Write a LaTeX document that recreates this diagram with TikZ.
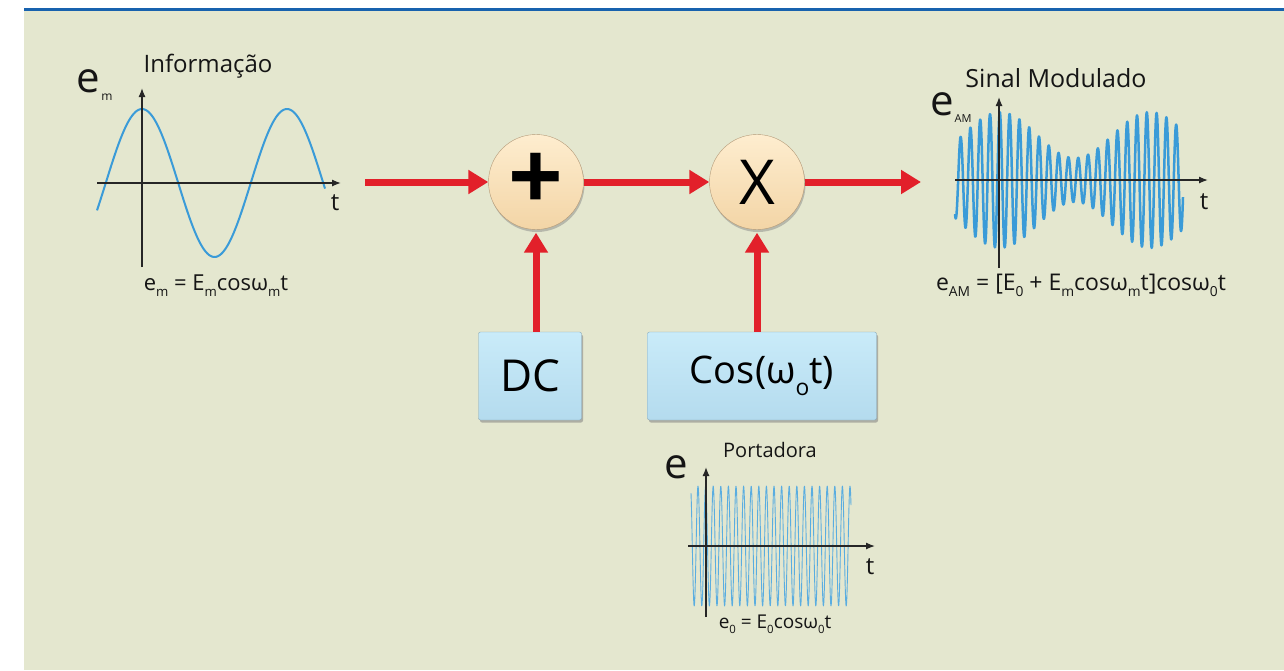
\documentclass[tikz,border=0pt]{standalone}
\usepackage{fontspec}
\setmainfont{Open Sans}
\usetikzlibrary{arrows.meta,shadows}

\definecolor{fundo}{HTML}{E4E7CF}
\definecolor{faixa}{HTML}{1862AE}
\definecolor{vermelho}{HTML}{E2202A}
\definecolor{azul}{HTML}{3A9BD8}
\definecolor{azulclaro}{HTML}{5AADE0}
\definecolor{cinza}{HTML}{262626}
\definecolor{preto}{HTML}{151515}
\definecolor{creme1}{HTML}{FEEDCF}
\definecolor{creme2}{HTML}{F3D5A6}
\definecolor{borda}{HTML}{B49A78}
\definecolor{ceu1}{HTML}{C9EBF9}
\definecolor{ceu2}{HTML}{B4DBEE}
\definecolor{cxborda}{HTML}{86A6B6}

% tamanho de fonte e indice rebaixado
\newcommand\tam[1]{\fontsize{#1}{#1}\selectfont}
\newcommand\lo[1]{\raisebox{-.3em}{\scalebox{.6}{#1}}}

\begin{document}
\begin{tikzpicture}[x=1pt, y=-1pt,
  seta/.style={draw=vermelho, line width=7pt, -{Triangle[length=20pt,width=23pt]}},
  eixo/.style={draw=cinza, line width=1.3pt, -{Latex[length=9pt,width=7pt]}},
  onda/.style={draw=azul, line width=2pt, line join=round},
  bola/.style={circle, minimum size=95pt, inner sep=0pt, draw=borda, top color=creme1,
    bottom color=creme2, drop shadow={shadow xshift=1pt, shadow yshift=-2.5pt, opacity=.45}},
  caixa/.style={rectangle, rounded corners=2pt, inner sep=0pt, draw=cxborda, top color=ceu1,
    bottom color=ceu2, drop shadow={shadow xshift=1.5pt, shadow yshift=-2.5pt, opacity=.55}},
  rotulo/.style={text=preto, inner sep=0pt, anchor=base},
]
\useasboundingbox (0,0) rectangle (1284,670);
\fill[fundo] (24,11) rectangle (1284,670);
\fill[faixa] (24,8) rectangle (1284,11);

% informacao
\draw[onda] plot[domain=97:325, samples=150] (\x, {183-74*cos((\x-142)/145*360)});
\draw[eixo] (142,267) -- (142,88);
\draw[eixo] (97,183) -- (341,183);
\node[rotulo, font=\tam{24}] at (208,72) {Informação};
\node[rotulo, font=\tam{42}] at (88,92) {e};
\node[rotulo, font=\tam{12}] at (107,100) {m};
\node[rotulo, font=\tam{24}] at (335,210) {t};
\node[rotulo, font=\tam{22}] at (216,290) {e\lo{m} = E\lo{m}cosω\lo{m}t};

% sinal modulado
\draw[onda, line width=2.5pt] plot[domain=955:1183, samples=700]
  (\x, {180-(45+23*cos((\x-1000)/150*360))*cos((\x-990)/9.8*360)});
\draw[eixo] (999,268) -- (999,97);
\draw[eixo] (955,180) -- (1208,180);
\node[rotulo, font=\tam{25}] at (1056,87) {Sinal Modulado};
\node[rotulo, font=\tam{42}] at (942,115) {e};
\node[rotulo, font=\tam{11}] at (963,122) {AM};
\node[rotulo, font=\tam{24}] at (1204,209) {t};
\node[rotulo, font=\tam{23}] at (1081,290) {e\lo{AM} = [E\lo{0} + E\lo{m}cosω\lo{m}t]cosω\lo{0}t};

% portadora
\draw[onda, draw=azulclaro, line width=.9pt] plot[domain=691:851, samples=600]
  (\x, {546-60*cos((\x-698)/7.6*360)});
\draw[eixo] (706,617) -- (706,467);
\draw[eixo] (688,546) -- (875,546);
\node[rotulo, font=\tam{20}] at (770,457) {Portadora};
\node[rotulo, font=\tam{42}] at (676,478) {e};
\node[rotulo, font=\tam{24}] at (870,574) {t};
\node[rotulo, font=\tam{19}] at (775,628) {e\lo{0} = E\lo{0}cosω\lo{0}t};

% blocos
\node[bola, font=\bfseries\tam{96}] (soma) at (536,182) {+};
\node[bola, font=\tam{62}] (mult) at (757,182) {X};
\node[caixa, minimum width=103pt, minimum height=88pt, font=\tam{44}] (dc) at (530,376) {DC};
\node[caixa, minimum width=229pt, minimum height=88pt, font=\tam{38}] (osc) at (762,376) {Cos(ω\lo{o}t)};

\coordinate (entra) at (365,182);
\coordinate (sai) at (921,182);
\draw[seta] (entra) -- (soma);
\draw[seta] (soma) -- (mult);
\draw[seta] (mult) -- (sai);
\draw[seta, shorten >=3pt] (soma |- dc.north) -- (soma);
\draw[seta, shorten >=3pt] (mult |- osc.north) -- (mult);
\end{tikzpicture}
\end{document}
